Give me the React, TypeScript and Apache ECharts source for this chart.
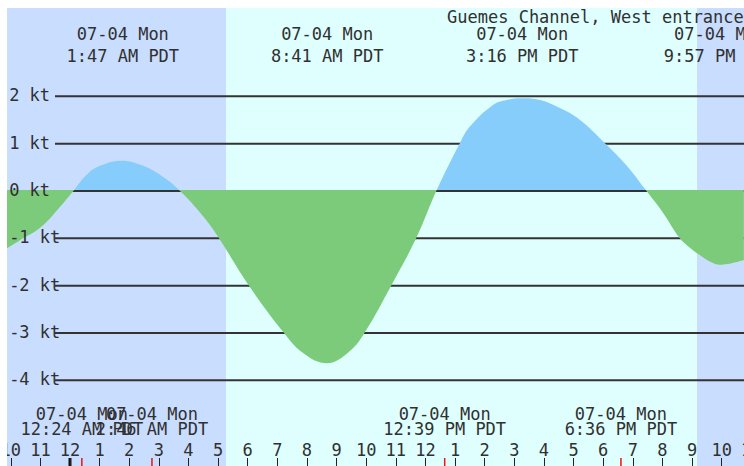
import React, { useEffect, useRef } from 'react';
import * as echarts from 'echarts';

// ---- data ----
const stationName = 'Guemes Channel, West entrance';
const dateLabel = '07-04 Mon';

// hours since midnight 07-04 (PDT) and current speed in knots (+ flood, - ebb)
const curveHours = [-2.13, -1.69, -1.01, -0.34, 0.14, 0.56, 1.01, 1.76, 2.47, 3.04, 3.68, 4.5, 5.01, 6.02, 7.2, 7.88, 8.67, 9.45, 9.96, 10.86, 11.7, 12.38, 13.17, 13.5, 14.29, 14.74, 15.25, 15.87, 16.54, 17.22, 18.06, 18.79, 19.44, 20.03, 20.59, 20.99, 21.27, 21.6, 21.94, 22.75];
const curveKnots = [-1.23, -1.06, -0.8, -0.36, 0, 0.32, 0.51, 0.62, 0.51, 0.32, 0, -0.56, -1.0, -2.0, -3.0, -3.45, -3.66, -3.4, -3.0, -2.0, -1.0, 0, 1.0, 1.34, 1.8, 1.9, 1.94, 1.9, 1.73, 1.48, 0.99, 0.52, 0, -0.49, -1.02, -1.25, -1.38, -1.51, -1.58, -1.48];

const levelValues = [-4, -3, -2, -1, 0, 1, 2];

const extremaHours = [1.783, 8.683, 15.267, 21.95];
const extremaLabels = ['1:47 AM PDT', '8:41 AM PDT', '3:16 PM PDT', '9:57 PM PDT'];
const eventHours = [0.4, 2.767, 12.65, 18.6];
const eventLabels = ['12:24 AM PDT', '2:46 AM PDT', '12:39 PM PDT', '6:36 PM PDT'];
const midnightHours = [0];
const sunriseHour = 5.267;
const sunsetHour = 21.17;

const hourMin = -3;
const hourMax = 23;
const knotMin = -6;
const knotMax = 4;

// ---- layout / style ----
const W = 737;
const H = 458;
const PX_PER_HOUR = 29.62;
const ORIGIN_X = 63;
const ZERO_Y = 182;
const PX_PER_KT = 47.33;

const FONT_FAMILY = '"DejaVu Sans Mono", monospace';
const FONT_SIZE = 17;
const TEXT_COLOR = '#303030';
const NIGHT = '#C9DDFE';
const DAY = '#DFFFFF';
const FLOOD = '#87CDFB';
const EBB = '#7CCB7A';

const gridLeft = ORIGIN_X + hourMin * PX_PER_HOUR;
const gridRight = W - (ORIGIN_X + hourMax * PX_PER_HOUR);
const gridTop = ZERO_Y - knotMax * PX_PER_KT;
const gridBottom = H - (ZERO_Y - knotMin * PX_PER_KT);

const hourLabel = (v: number) => {
  const r = ((Math.round(v) % 12) + 12) % 12;
  return String(r === 0 ? 12 : r);
};

export default function App() {
  const ref = useRef<HTMLDivElement>(null);
  useEffect(() => {
    document.documentElement.style.overflow = 'hidden';
    document.body.style.margin = '0';
    if (!ref.current) return;
    const chart = echarts.init(ref.current, null, { renderer: 'svg', width: W, height: H });

    const bgData = [
      [hourMin, sunriseHour, 0],
      [sunriseHour, sunsetHour, 1],
      [sunsetHour, hourMax, 0],
    ];
    const tickData = [
      ...midnightHours.map((h) => [h, 0]),
      ...eventHours.map((h) => [h, 1]),
    ];
    const labelData = [
      ...extremaHours.map((h, i) => [h, 0, i]),
      ...eventHours.map((h, i) => [h, 1, i]),
    ];

    const textEl = (text: string, x: number, y: number) => ({
      type: 'text',
      style: {
        text,
        x,
        y,
        fill: TEXT_COLOR,
        fontFamily: FONT_FAMILY,
        fontSize: FONT_SIZE,
        align: 'center',
        verticalAlign: 'middle',
      },
    });

    chart.setOption({
      animation: false,
      grid: {
        left: gridLeft,
        right: gridRight,
        top: gridTop,
        bottom: gridBottom,
        containLabel: false,
        outerBoundsMode: 'none',
      },
      xAxis: {
        type: 'value',
        min: hourMin,
        max: hourMax,
        interval: 1,
        position: 'bottom',
        offset: -8,
        z: 5,
        axisLine: { show: false, onZero: false },
        axisTick: { show: true, inside: true, length: 8, lineStyle: { color: '#222', width: 1 } },
        axisLabel: {
          inside: true,
          margin: 7,
          formatter: hourLabel,
          color: TEXT_COLOR,
          fontFamily: FONT_FAMILY,
          fontSize: FONT_SIZE,
        },
        splitLine: { show: false },
      },
      yAxis: {
        type: 'value',
        min: knotMin,
        max: knotMax,
        interval: 1,
        z: 5,
        axisLine: { show: false, onZero: false },
        axisTick: { show: false },
        splitLine: { show: false },
        axisLabel: {
          inside: true,
          margin: 28,
          align: 'left',
          formatter: (v: number) => (v >= levelValues[0] && v <= levelValues[levelValues.length - 1] ? `${v} kt` : ''),
          color: TEXT_COLOR,
          fontFamily: FONT_FAMILY,
          fontSize: FONT_SIZE,
        },
      },
      visualMap: {
        show: false,
        type: 'piecewise',
        seriesIndex: 2,
        dimension: 1,
        pieces: [
          { gt: 0, lte: 20, color: FLOOD },
          { gte: -20, lte: 0, color: EBB },
        ],
      },
      series: [
        {
          type: 'custom',
          z: 0,
          silent: true,
          data: bgData,
          renderItem: (params: any, api: any) => {
            const x1 = api.coord([api.value(0), 0])[0];
            const x2 = api.coord([api.value(1), 0])[0];
            return {
              type: 'rect',
              shape: { x: x1, y: 0, width: x2 - x1, height: H },
              style: { fill: api.value(2) === 1 ? DAY : NIGHT },
            };
          },
        },
        {
          type: 'custom',
          z: 1,
          silent: true,
          data: levelValues.map((v) => [0, v]),
          renderItem: (params: any, api: any) => {
            const y = api.coord([0, api.value(1)])[1] + 1;
            return {
              type: 'line',
              shape: { x1: 48, y1: y, x2: W, y2: y },
              style: { stroke: '#333', lineWidth: 2 },
            };
          },
        },
        {
          type: 'line',
          z: 2,
          silent: true,
          smooth: 0.4,
          symbol: 'none',
          lineStyle: { width: 0, opacity: 0 },
          areaStyle: { opacity: 1 },
          data: curveHours.map((h, i) => [h, curveKnots[i]]),
        },
        {
          type: 'custom',
          z: 3,
          silent: true,
          data: tickData,
          renderItem: (params: any, api: any) => {
            const x = api.coord([api.value(0), 0])[0];
            const isMidnight = api.value(1) === 0;
            return {
              type: 'line',
              shape: { x1: x, y1: H - 8, x2: x, y2: H },
              style: { stroke: isMidnight ? '#111' : '#ee1111', lineWidth: isMidnight ? 3 : 1.5 },
            };
          },
        },
        {
          type: 'custom',
          z: 4,
          silent: true,
          data: labelData,
          renderItem: (params: any, api: any) => {
            const x = api.coord([api.value(0), 0])[0];
            const bottom = api.value(1) === 1;
            const idx = api.value(2);
            const time = bottom ? eventLabels[idx] : extremaLabels[idx];
            const y1 = bottom ? 405.5 : 26;
            const y2 = bottom ? 421 : 48;
            return {
              type: 'group',
              children: [textEl(dateLabel, x, y1), textEl(time, x, y2)],
            };
          },
        },
      ],
      graphic: [
        {
          type: 'text',
          left: 440,
          top: 0,
          z: 10,
          style: {
            text: stationName,
            fill: TEXT_COLOR,
            fontFamily: FONT_FAMILY,
            fontSize: FONT_SIZE,
          },
        },
      ],
    });
    return () => chart.dispose();
  }, []);
  return (
    <div
      ref={ref}
      style={{ position: 'absolute', left: 7, top: 8, width: W, height: H, overflow: 'hidden' }}
    />
  );
}
